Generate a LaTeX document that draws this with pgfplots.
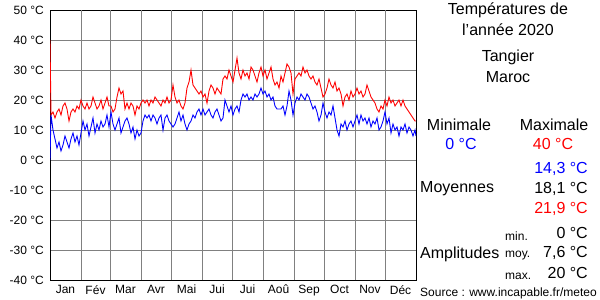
\documentclass[border=0pt]{standalone}
\usepackage{pgfplots}
\pgfplotsset{compat=1.18}
\usepackage{fontspec}
\setmainfont{Liberation Sans}
\definecolor{gridgray}{RGB}{128,128,128}
\newcommand{\fs}[1]{\fontsize{#1bp}{#1bp}\selectfont}
\begin{document}
\begin{tikzpicture}
\path[use as bounding box] (0,0) rectangle (600bp,300bp);
\begin{axis}[
  at={(50bp,20bp)}, anchor=south west,
  scale only axis, width=366bp, height=270bp,
  xmin=0, xmax=366, ymin=-40, ymax=50,
  ytick={-40,-30,...,50},
  ymajorgrids,
  grid style={gridgray, line width=1bp},
  axis line style={black, line width=1bp},
  major tick length=0pt,
  /pgf/number format/assume math mode=true,
  yticklabel={\pgfmathprintnumber{\tick}~°C},
  yticklabel style={font=\fs{12}, anchor=east, inner sep=0pt, xshift=-6bp},
  xtick={15.5,45.5,75.5,106,136.5,167,197.5,228.5,259,289.5,320,350.5},
  xticklabels={Jan,Fév,Mar,Avr,Mai,Jui,Jui,Aoû,Sep,Oct,Nov,Déc},
  xticklabel style={font=\fs{12}, anchor=north, inner sep=0pt, yshift=-5bp},
  extra x ticks={31,60,91,121,152,182,213,244,274,305,335},
  extra x tick labels={},
  extra x tick style={xmajorgrids=true},
  clip=true,
]
\addplot[red, line width=0.9bp] table {
0 40
1 15
3 16
5 14
7 16
9 17
11 15
13 18
15 19
17 17
19 13
21 16
23 17
25 16
27 18
29 17
31 20
33 18
35 17
37 19
39 17
41 18
43 21
45 19
47 17
49 18
51 20
53 17
55 19
57 21
59 18
61 18
63 16
65 17
67 21
69 24
71 22
73 23
75 17
77 19
79 17
81 19
83 18
85 15
87 18
89 17
91 19
93 20
95 19
97 20
99 18
101 20
103 19
105 21
107 20
109 19
111 18
113 20
115 19
117 21
119 19
121 20
123 25
125 21
127 19
129 20
131 18
133 17
135 19
137 24
139 26
141 30
143 25
145 24
147 23
149 22
151 23
153 21
155 22
157 19
159 23
161 25
163 24
165 22
167 24
169 23
171 22
173 27
175 28
177 27
179 30
181 28
183 26
185 30
187 34
189 29
191 27
193 30
195 28
197 29
199 27
201 31
203 30
205 28
207 26
209 29
211 31
213 28
215 30
217 27
219 29
221 31
223 27
225 25
227 26
229 24
231 28
233 26
235 29
237 32
239 31
241 29
243 22
245 27
247 28
249 29
251 28
253 31
255 29
257 30
259 28
261 27
263 28
265 26
267 25
269 27
271 24
273 21
275 22
277 24
279 27
281 25
283 24
285 26
287 23
289 24
291 22
293 18
295 21
297 22
299 20
301 23
303 21
305 22
307 24
309 22
311 23
313 21
315 22
317 25
319 23
321 21
323 20
325 19
327 17
329 16
331 18
333 17
335 20
337 18
339 21
341 19
343 20
345 18
347 19
349 20
351 18
353 20
355 18
357 17
359 16
361 15
363 14
365 13
366 13
};
\addplot[blue, line width=0.9bp] table {
0 0
1 15
3 10
5 7
7 4
9 6
11 3
13 5
15 8
17 6
19 4
21 7
23 9
25 6
27 8
29 5
31 9
33 13
35 10
37 12
39 8
41 11
43 14
45 9
47 12
49 10
51 13
53 11
55 12
57 15
59 11
61 16
63 12
65 10
67 12
69 14
71 9
73 11
75 13
77 14
79 12
81 9
83 11
85 7
87 10
89 8
91 9
93 13
95 15
97 14
99 15
101 13
103 15
105 14
107 12
109 14
111 15
113 10
115 14
117 15
119 13
121 12
123 11
125 12
127 14
129 16
131 13
133 15
135 12
137 10
139 12
141 13
143 15
145 14
147 16
149 17
151 15
153 17
155 15
157 16
159 17
161 15
163 14
165 16
167 17
169 15
171 13
173 14
175 20
177 18
179 16
181 18
183 15
185 17
187 18
189 16
191 20
193 22
195 21
197 22
199 20
201 21
203 20
205 22
207 21
209 22
211 24
213 22
215 23
217 21
219 22
221 20
223 21
225 18
227 17
229 17
231 17
233 18
235 15
237 18
239 23
241 20
243 15
245 19
247 21
249 20
251 22
253 21
255 20
257 22
259 21
261 19
263 17
265 18
267 16
269 13
271 15
273 19
275 16
277 14
279 16
281 15
283 18
285 14
287 10
289 8
291 12
293 11
295 13
297 10
299 12
301 13
303 11
305 13
307 15
309 12
311 15
313 13
315 14
317 12
319 14
321 11
323 13
325 12
327 14
329 10
331 11
333 13
335 16
337 12
339 14
341 9
343 12
345 10
347 11
349 8
351 11
353 10
355 12
357 9
359 11
361 10
363 8
365 10
366 8
};
\end{axis}
\begin{scope}[every node/.style={inner sep=0pt, font=\fs{16}}]
\node at (508bp,290bp) {Températures de};
\node at (508bp,270bp) {l{\char"27}année 2020};
\node at (508bp,243bp) {Tangier};
\node at (508bp,223bp) {Maroc};
\node at (459bp,175bp) {Minimale};
\node at (554bp,175bp) {Maximale};
\node[text=blue] at (461bp,156bp) {0 °C};
\node[text=red] at (553bp,156bp) {40 °C};
\node[anchor=east, text=blue] at (588bp,131bp) {14,3 °C};
\node[anchor=east] at (588bp,111bp) {18,1 °C};
\node[anchor=east, text=red] at (588bp,91bp) {21,9 °C};
\node[anchor=west] at (420bp,111bp) {Moyennes};
\node[anchor=east] at (588bp,67bp) {0 °C};
\node[anchor=east] at (588bp,47bp) {7,6 °C};
\node[anchor=east] at (588bp,27bp) {20 °C};
\node[anchor=west] at (420bp,46bp) {Amplitudes};
\node[anchor=west, font=\fs{12}] at (505bp,64bp) {min.};
\node[anchor=west, font=\fs{12}] at (505bp,44bp) {moy.};
\node[anchor=west, font=\fs{12}] at (505bp,24bp) {max.};
\node[anchor=west, font=\fs{12}] at (420bp,7bp) {Source : www.incapable.fr/meteo};
\end{scope}
\end{tikzpicture}
\end{document}
